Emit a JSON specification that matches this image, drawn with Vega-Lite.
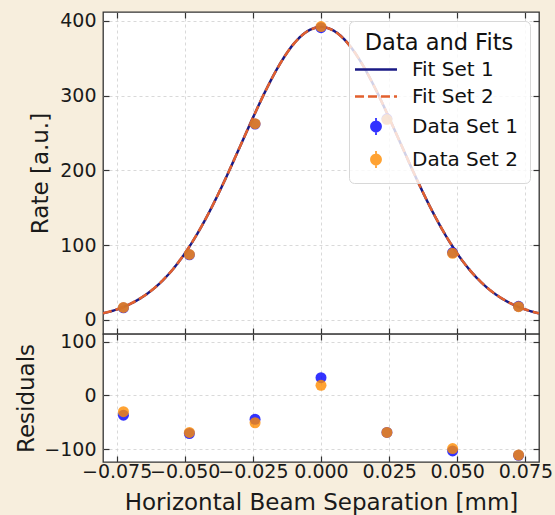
{
  "$schema": "https://vega.github.io/schema/vega-lite/v6.json",
  "background": "#f7eedd",
  "padding": {"left": 15, "top": 10, "right": 17, "bottom": 0},
  "spacing": 0,
  "bounds": "flush",
  "config": {
    "font": "DejaVu Sans",
    "view": {"stroke": "#333333", "strokeWidth": 1.3, "fill": "white"},
    "axis": {
      "domain": false, "grid": true, "gridColor": "#cfcfcf", "gridDash": [3, 3], "gridWidth": 0.8,
      "ticks": true, "tickSize": -6, "tickColor": "#333333", "tickWidth": 1.2,
      "labelFontSize": 19, "labelColor": "#1a1a1a", "labelPadding": 10,
      "titleFontSize": 23, "titleFontWeight": "normal", "titleColor": "#1a1a1a", "titlePadding": 5
    }
  },
  "datasets": {
    "fit": [
      {"x": -0.08, "rate": 8.7, "series": "Fit Set 1"},
      {"x": -0.075, "rate": 13.8, "series": "Fit Set 1"},
      {"x": -0.07, "rate": 21.3, "series": "Fit Set 1"},
      {"x": -0.065, "rate": 31.8, "series": "Fit Set 1"},
      {"x": -0.06, "rate": 46.1, "series": "Fit Set 1"},
      {"x": -0.055, "rate": 64.9, "series": "Fit Set 1"},
      {"x": -0.05, "rate": 88.7, "series": "Fit Set 1"},
      {"x": -0.045, "rate": 117.6, "series": "Fit Set 1"},
      {"x": -0.04, "rate": 151.4, "series": "Fit Set 1"},
      {"x": -0.035, "rate": 189.2, "series": "Fit Set 1"},
      {"x": -0.03, "rate": 229.6, "series": "Fit Set 1"},
      {"x": -0.025, "rate": 270.3, "series": "Fit Set 1"},
      {"x": -0.02, "rate": 309.0, "series": "Fit Set 1"},
      {"x": -0.015, "rate": 342.9, "series": "Fit Set 1"},
      {"x": -0.01, "rate": 369.4, "series": "Fit Set 1"},
      {"x": -0.005, "rate": 386.2, "series": "Fit Set 1"},
      {"x": 0.0, "rate": 392.0, "series": "Fit Set 1"},
      {"x": 0.005, "rate": 386.2, "series": "Fit Set 1"},
      {"x": 0.01, "rate": 369.4, "series": "Fit Set 1"},
      {"x": 0.015, "rate": 342.9, "series": "Fit Set 1"},
      {"x": 0.02, "rate": 309.0, "series": "Fit Set 1"},
      {"x": 0.025, "rate": 270.3, "series": "Fit Set 1"},
      {"x": 0.03, "rate": 229.6, "series": "Fit Set 1"},
      {"x": 0.035, "rate": 189.2, "series": "Fit Set 1"},
      {"x": 0.04, "rate": 151.4, "series": "Fit Set 1"},
      {"x": 0.045, "rate": 117.6, "series": "Fit Set 1"},
      {"x": 0.05, "rate": 88.7, "series": "Fit Set 1"},
      {"x": 0.055, "rate": 64.9, "series": "Fit Set 1"},
      {"x": 0.06, "rate": 46.1, "series": "Fit Set 1"},
      {"x": 0.065, "rate": 31.8, "series": "Fit Set 1"},
      {"x": 0.07, "rate": 21.3, "series": "Fit Set 1"},
      {"x": 0.075, "rate": 13.8, "series": "Fit Set 1"},
      {"x": 0.08, "rate": 8.7, "series": "Fit Set 1"},
      {"x": -0.08, "rate": 8.7, "series": "Fit Set 2"},
      {"x": -0.075, "rate": 13.8, "series": "Fit Set 2"},
      {"x": -0.07, "rate": 21.3, "series": "Fit Set 2"},
      {"x": -0.065, "rate": 31.8, "series": "Fit Set 2"},
      {"x": -0.06, "rate": 46.1, "series": "Fit Set 2"},
      {"x": -0.055, "rate": 64.9, "series": "Fit Set 2"},
      {"x": -0.05, "rate": 88.7, "series": "Fit Set 2"},
      {"x": -0.045, "rate": 117.6, "series": "Fit Set 2"},
      {"x": -0.04, "rate": 151.4, "series": "Fit Set 2"},
      {"x": -0.035, "rate": 189.2, "series": "Fit Set 2"},
      {"x": -0.03, "rate": 229.6, "series": "Fit Set 2"},
      {"x": -0.025, "rate": 270.3, "series": "Fit Set 2"},
      {"x": -0.02, "rate": 309.0, "series": "Fit Set 2"},
      {"x": -0.015, "rate": 342.9, "series": "Fit Set 2"},
      {"x": -0.01, "rate": 369.4, "series": "Fit Set 2"},
      {"x": -0.005, "rate": 386.2, "series": "Fit Set 2"},
      {"x": 0.0, "rate": 392.0, "series": "Fit Set 2"},
      {"x": 0.005, "rate": 386.2, "series": "Fit Set 2"},
      {"x": 0.01, "rate": 369.4, "series": "Fit Set 2"},
      {"x": 0.015, "rate": 342.9, "series": "Fit Set 2"},
      {"x": 0.02, "rate": 309.0, "series": "Fit Set 2"},
      {"x": 0.025, "rate": 270.3, "series": "Fit Set 2"},
      {"x": 0.03, "rate": 229.6, "series": "Fit Set 2"},
      {"x": 0.035, "rate": 189.2, "series": "Fit Set 2"},
      {"x": 0.04, "rate": 151.4, "series": "Fit Set 2"},
      {"x": 0.045, "rate": 117.6, "series": "Fit Set 2"},
      {"x": 0.05, "rate": 88.7, "series": "Fit Set 2"},
      {"x": 0.055, "rate": 64.9, "series": "Fit Set 2"},
      {"x": 0.06, "rate": 46.1, "series": "Fit Set 2"},
      {"x": 0.065, "rate": 31.8, "series": "Fit Set 2"},
      {"x": 0.07, "rate": 21.3, "series": "Fit Set 2"},
      {"x": 0.075, "rate": 13.8, "series": "Fit Set 2"},
      {"x": 0.08, "rate": 8.7, "series": "Fit Set 2"}
    ],
    "pts": [
      {"x": -0.0725, "rate": 16.0, "resid": -37.0, "series": "Data Set 1"},
      {"x": -0.0483, "rate": 87.0, "resid": -71.0, "series": "Data Set 1"},
      {"x": -0.0242, "rate": 262.0, "resid": -44.5, "series": "Data Set 1"},
      {"x": 0.0, "rate": 391.0, "resid": 32.7, "series": "Data Set 1"},
      {"x": 0.0242, "rate": 269.0, "resid": -69.0, "series": "Data Set 1"},
      {"x": 0.0483, "rate": 90.0, "resid": -103.5, "series": "Data Set 1"},
      {"x": 0.0725, "rate": 18.0, "resid": -111.5, "series": "Data Set 1"},
      {"x": -0.0725, "rate": 16.5, "resid": -30.5, "series": "Data Set 2"},
      {"x": -0.0483, "rate": 87.5, "resid": -69.0, "series": "Data Set 2"},
      {"x": -0.0242, "rate": 262.5, "resid": -51.0, "series": "Data Set 2"},
      {"x": 0.0, "rate": 392.5, "resid": 18.6, "series": "Data Set 2"},
      {"x": 0.0242, "rate": 268.0, "resid": -69.0, "series": "Data Set 2"},
      {"x": 0.0483, "rate": 89.0, "resid": -99.0, "series": "Data Set 2"},
      {"x": 0.0725, "rate": 17.5, "resid": -111.0, "series": "Data Set 2"}
    ]
  },
  "vconcat": [
    {
      "width": 436,
      "height": 322,
      "resolve": {"axis": {"x": "independent", "y": "independent"}},
      "layer": [
        {
          "data": {"name": "fit"},
          "mark": {"type": "line", "strokeWidth": 2.5, "interpolate": "monotone", "clip": true},
          "encoding": {
            "x": {"field": "x", "type": "quantitative",
              "scale": {"domain": [-0.08, 0.08], "nice": false, "zero": false},
              "axis": {"orient": "bottom", "labels": false, "title": null, "values": [-0.075, -0.05, -0.025, 0, 0.025, 0.05, 0.075]}},
            "y": {"field": "rate", "type": "quantitative",
              "scale": {"domain": [-19, 412], "nice": false, "zero": false},
              "axis": {"values": [0, 100, 200, 300, 400], "format": "d", "title": "Rate [a.u.]", "labelPadding": 13, "titlePadding": 7}},
            "color": {"field": "series", "type": "nominal",
              "scale": {"domain": ["Fit Set 1", "Fit Set 2", "Data Set 1", "Data Set 2"], "range": ["#1a1a85", "#e2602e", "#0000ff", "#ff8c00"]},
              "legend": {
                "title": "Data and Fits", "orient": "top-right", "offset": 9,
                "titleFontSize": 22.5, "titleFontWeight": "normal", "titleColor": "#111111", "titleAnchor": "middle", "titlePadding": 5,
                "labelFontSize": 20, "labelColor": "#111111", "labelOffset": 26,
                "symbolSize": 400, "symbolOffset": 6, "symbolStrokeWidth": 2.5,
                "padding": 11, "rowPadding": 7,
                "fillColor": "rgba(255,255,255,0.8)", "strokeColor": "#d8d8d8", "cornerRadius": 5,
                "encode": {
                  "symbols": {
                    "update": {
                      "shape": {"signal": "indexof(['Fit Set 1','Fit Set 2'], datum.value) >= 0 ? 'M-2.1,0L2.1,0' : 'M-0.5,0A0.5,0.5,0,1,1,0.5,0A0.5,0.5,0,1,1,-0.5,0ZM0,-0.85L0,0.85'"},
                      "fill": {"signal": "datum.value == 'Data Set 1' ? '#0000ff' : datum.value == 'Data Set 2' ? '#ff8c00' : 'transparent'"},
                      "stroke": {"signal": "datum.value == 'Fit Set 1' ? '#1a1a85' : datum.value == 'Fit Set 2' ? '#e2602e' : datum.value == 'Data Set 1' ? '#0000ff' : '#ff8c00'"},
                      "strokeDash": {"signal": "datum.value == 'Fit Set 2' ? [9, 4] : [1, 0]"},
                      "strokeWidth": {"signal": "indexof(['Data Set 1','Data Set 2'], datum.value) >= 0 ? 1.8 : 2.5"},
                      "size": {"value": 400},
                      "opacity": {"signal": "indexof(['Data Set 1','Data Set 2'], datum.value) >= 0 ? 0.8 : 1"}
                    }
                  }
                }
              }},
            "strokeDash": {"field": "series", "type": "nominal",
              "scale": {"domain": ["Fit Set 1", "Fit Set 2"], "range": [[1, 0], [9, 4]]}, "legend": null}
          }
        },
        {
          "data": {"name": "pts"},
          "mark": {"type": "point", "filled": true, "size": 121, "opacity": 0.8, "shape": "circle"},
          "encoding": {
            "x": {"field": "x", "type": "quantitative", "axis": null},
            "y": {"field": "rate", "type": "quantitative", "axis": null},
            "color": {"field": "series", "type": "nominal"}
          }
        },
        {
          "data": {"name": "fit"},
          "mark": {"type": "line", "opacity": 0},
          "encoding": {
            "x": {"field": "x", "type": "quantitative",
              "axis": {"orient": "top", "labels": false, "grid": false, "title": null, "values": [-0.075, -0.05, -0.025, 0, 0.025, 0.05, 0.075]}},
            "y": {"field": "rate", "type": "quantitative",
              "axis": {"orient": "right", "labels": false, "grid": false, "title": null, "values": [0, 100, 200, 300, 400]}}
          }
        }
      ]
    },
    {
      "width": 436,
      "height": 128,
      "resolve": {"axis": {"x": "independent", "y": "independent"}},
      "layer": [
        {
          "data": {"name": "pts"},
          "mark": {"type": "point", "filled": true, "size": 121, "opacity": 0.8, "shape": "circle"},
          "encoding": {
            "x": {"field": "x", "type": "quantitative",
              "scale": {"domain": [-0.08, 0.08], "nice": false, "zero": false},
              "axis": {"values": [-0.075, -0.05, -0.025, 0, 0.025, 0.05, 0.075], "format": ".3f", "title": "Horizontal Beam Separation [mm]", "labelOverlap": false, "labelFlush": false, "labelPadding": 6, "titlePadding": 10}},
            "y": {"field": "resid", "type": "quantitative",
              "scale": {"domain": [-124, 114], "nice": false, "zero": false},
              "axis": {"values": [-100, 0, 100], "format": "d", "title": "Residuals", "labelPadding": 13}},
            "color": {"field": "series", "type": "nominal",
              "scale": {"domain": ["Data Set 1", "Data Set 2"], "range": ["#0000ff", "#ff8c00"]}, "legend": null}
          }
        },
        {
          "data": {"name": "pts"},
          "mark": {"type": "point", "opacity": 0},
          "encoding": {
            "x": {"field": "x", "type": "quantitative",
              "axis": {"orient": "top", "labels": false, "grid": false, "title": null, "values": [-0.075, -0.05, -0.025, 0, 0.025, 0.05, 0.075]}},
            "y": {"field": "resid", "type": "quantitative",
              "axis": {"orient": "right", "labels": false, "grid": false, "title": null, "values": [-100, 0, 100]}}
          }
        }
      ]
    }
  ]
}
